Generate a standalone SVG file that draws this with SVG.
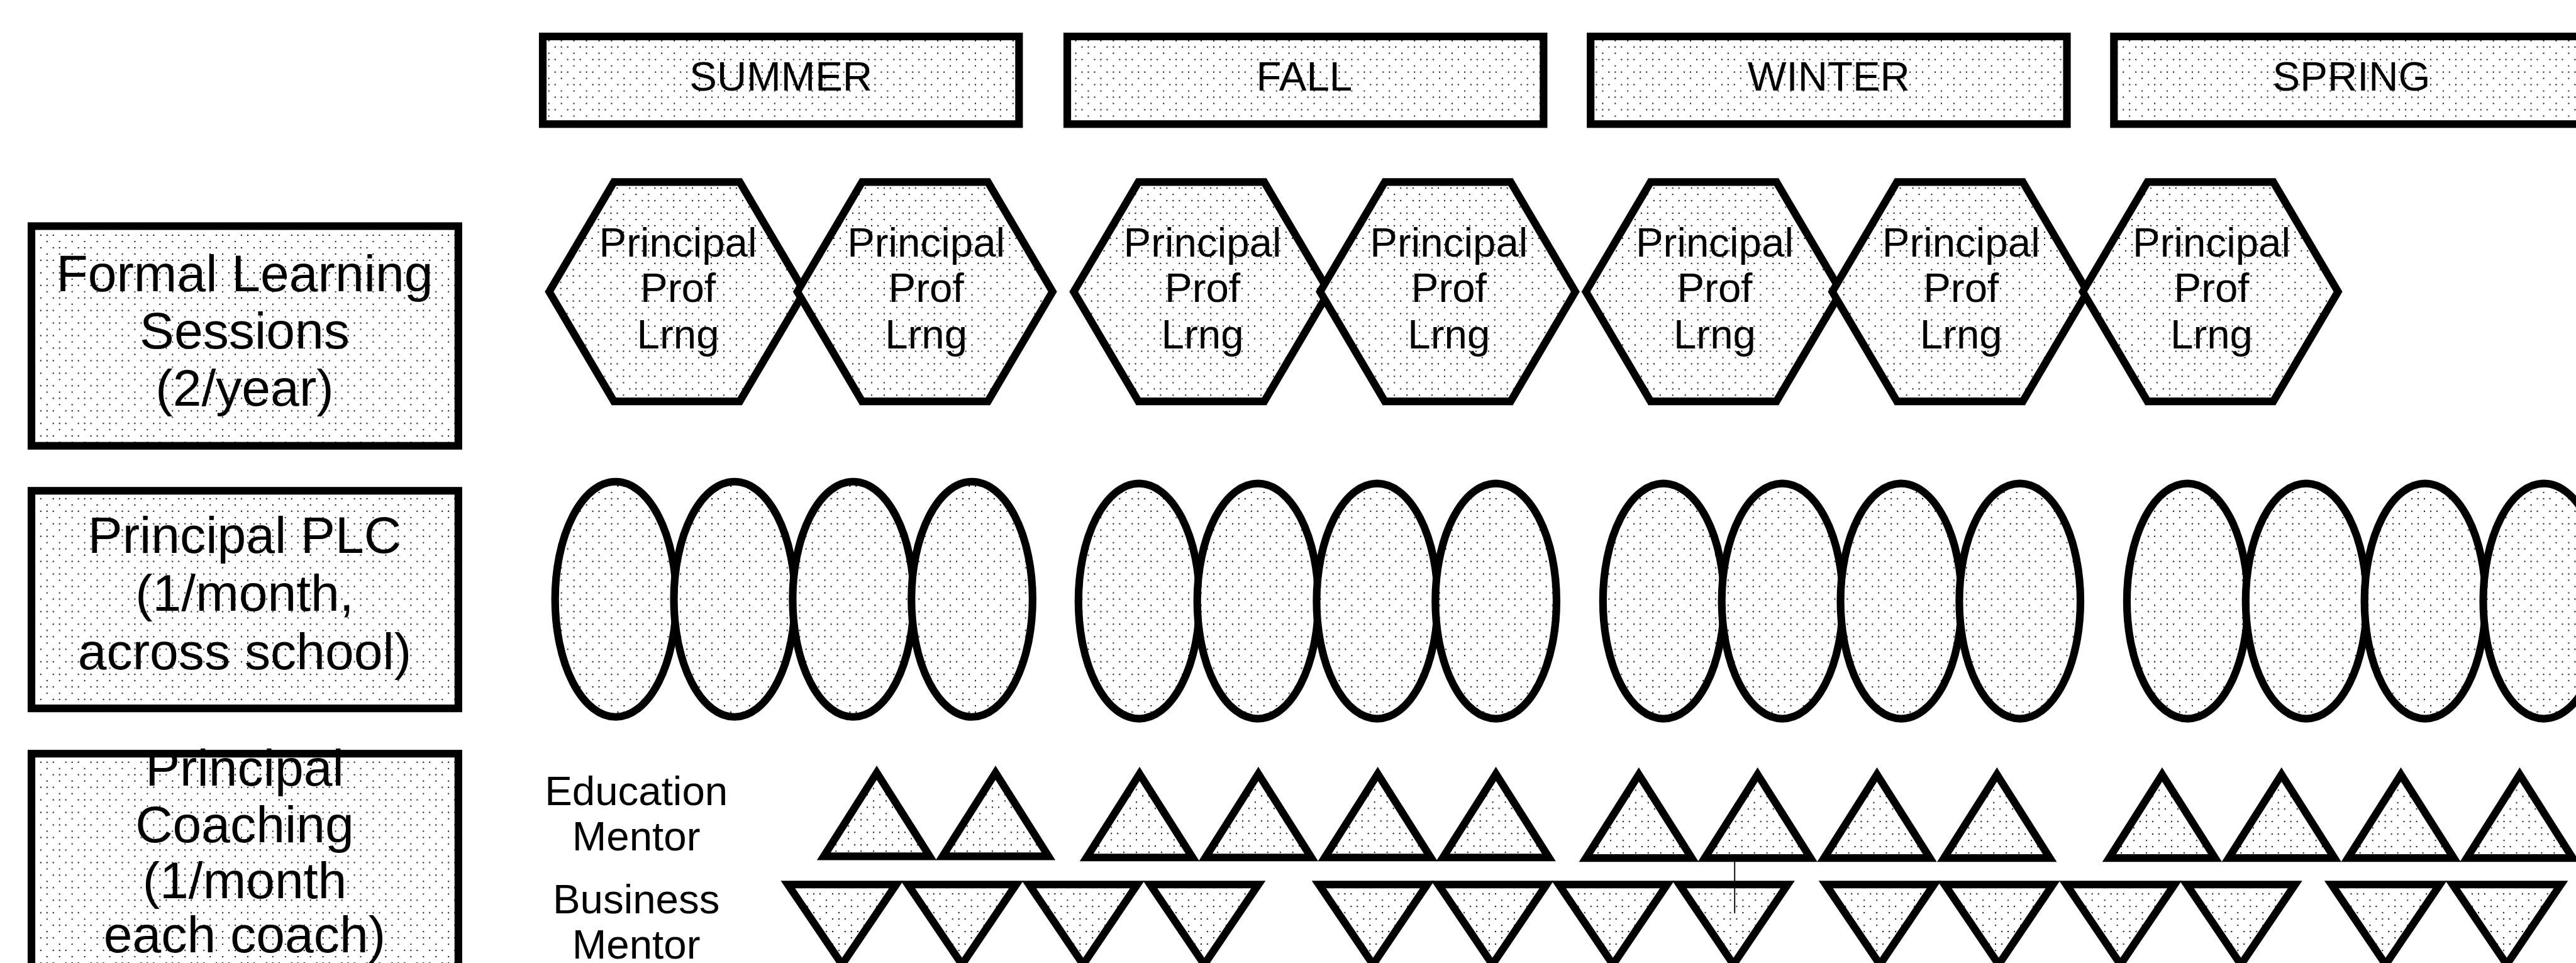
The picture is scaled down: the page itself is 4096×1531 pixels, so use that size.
<svg xmlns="http://www.w3.org/2000/svg" width="4096" height="1531" viewBox="0 0 4096 1531">
<defs>
<pattern id="dots" patternUnits="userSpaceOnUse" width="42.67" height="42.67">
<rect width="42.67" height="42.67" fill="#fff"/>
<g fill="#000">
<circle cx="16" cy="5.33" r="1.2"/><circle cx="37.33" cy="5.33" r="1.2"/>
<circle cx="5.33" cy="16" r="1.2"/><circle cx="26.67" cy="16" r="1.2"/><circle cx="37.33" cy="16" r="1.2"/>
<circle cx="16" cy="26.67" r="1.2"/><circle cx="37.33" cy="26.67" r="1.2"/>
<circle cx="5.33" cy="37.33" r="1.2"/><circle cx="16" cy="37.33" r="1.2"/><circle cx="26.67" cy="37.33" r="1.2"/>
</g>
</pattern>
<path id="hex" d="M-217,0 L-107,-186.5 L107,-186.5 L217,0 L107,186.5 L-107,186.5 Z"/>
<path id="up" d="M0,0 L90,142 L-90,142 Z"/>
<path id="down" d="M-92,0 L92,0 L0,136 Z"/>
</defs>
<style>
.sh{fill:url(#dots);stroke:#000;stroke-width:13;stroke-linejoin:miter;stroke-miterlimit:6}
.fo{fill:url(#dots);stroke:none}
.so{fill:none;stroke:#000;stroke-width:13}
.t{font-family:"Liberation Sans",Arial,Helvetica,sans-serif;fill:#000;text-anchor:middle}
.s70{font-size:70px}
.s88{font-size:88px}
.ln{stroke:#000;stroke-width:2;fill:none}
</style>
<rect width="4096" height="1531" fill="#fff"/>
<g transform="scale(0.935)">
<!-- season headers -->
<g id="season-summer"><rect class="sh" x="923" y="62" width="810" height="149"/><text class="t s70" x="1328" y="154">SUMMER</text></g>
<g id="season-fall"><rect class="sh" x="1815" y="62" width="810" height="149"/><text class="t s70" x="2218" y="154">FALL</text></g>
<g id="season-winter"><rect class="sh" x="2705" y="62" width="810" height="149"/><text class="t s70" x="3110" y="154">WINTER</text></g>
<g id="season-spring"><rect class="sh" x="3595" y="62" width="810" height="149"/><text class="t s70" x="3999" y="154">SPRING</text></g>

<!-- row labels -->
<g id="label-formal"><rect class="sh" x="53.5" y="384.5" width="726" height="373.5"/>
<text class="t s88" x="416" y="495">Formal Learning</text>
<text class="t s88" x="416" y="592">Sessions</text>
<text class="t s88" x="416" y="690">(2/year)</text></g>
<g id="label-plc"><rect class="sh" x="53.5" y="834.5" width="726" height="370"/>
<text class="t s88" x="416" y="940">Principal PLC</text>
<text class="t s88" x="416" y="1039">(1/month,</text>
<text class="t s88" x="416" y="1138">across school)</text></g>
<g id="label-coaching"><rect class="fo" x="53.5" y="1281.5" width="726" height="373.5"/>
<text class="t s88" x="416" y="1336">Principal</text>
<text class="t s88" x="416" y="1432">Coaching</text>
<text class="t s88" x="416" y="1527">(1/month</text>
<text class="t s88" x="416" y="1619">each coach)</text>
<rect class="so" x="53.5" y="1281.5" width="726" height="373.5"/></g>

<!-- hexagons -->
<g id="hex-1"><use href="#hex" class="sh" x="1151" y="496"/><text class="t s70" x="1153" y="436">Principal</text><text class="t s70" x="1153" y="513">Prof</text><text class="t s70" x="1153" y="592">Lrng</text></g>
<g id="hex-2"><use href="#hex" class="sh" x="1573" y="496"/><text class="t s70" x="1575" y="436">Principal</text><text class="t s70" x="1575" y="513">Prof</text><text class="t s70" x="1575" y="592">Lrng</text></g>
<g id="hex-3"><use href="#hex" class="sh" x="2043" y="496"/><text class="t s70" x="2045" y="436">Principal</text><text class="t s70" x="2045" y="513">Prof</text><text class="t s70" x="2045" y="592">Lrng</text></g>
<g id="hex-4"><use href="#hex" class="sh" x="2462" y="496"/><text class="t s70" x="2464" y="436">Principal</text><text class="t s70" x="2464" y="513">Prof</text><text class="t s70" x="2464" y="592">Lrng</text></g>
<g id="hex-5"><use href="#hex" class="sh" x="2914" y="496"/><text class="t s70" x="2916" y="436">Principal</text><text class="t s70" x="2916" y="513">Prof</text><text class="t s70" x="2916" y="592">Lrng</text></g>
<g id="hex-6"><use href="#hex" class="sh" x="3333" y="496"/><text class="t s70" x="3335" y="436">Principal</text><text class="t s70" x="3335" y="513">Prof</text><text class="t s70" x="3335" y="592">Lrng</text></g>
<g id="hex-7"><use href="#hex" class="sh" x="3759" y="496"/><text class="t s70" x="3761" y="436">Principal</text><text class="t s70" x="3761" y="513">Prof</text><text class="t s70" x="3761" y="592">Lrng</text></g>

<!-- PLC ellipses -->
<g id="plc-1"><ellipse class="sh" cx="1047" cy="1019" rx="103" ry="200"/></g>
<g id="plc-2"><ellipse class="sh" cx="1249" cy="1019" rx="103" ry="200"/></g>
<g id="plc-3"><ellipse class="sh" cx="1451" cy="1019" rx="103" ry="200"/></g>
<g id="plc-4"><ellipse class="sh" cx="1653" cy="1019" rx="103" ry="200"/></g>
<g id="plc-5"><ellipse class="sh" cx="1937" cy="1022" rx="103" ry="200"/></g>
<g id="plc-6"><ellipse class="sh" cx="2139" cy="1022" rx="103" ry="200"/></g>
<g id="plc-7"><ellipse class="sh" cx="2342" cy="1022" rx="103" ry="200"/></g>
<g id="plc-8"><ellipse class="sh" cx="2544" cy="1022" rx="103" ry="200"/></g>
<g id="plc-9"><ellipse class="sh" cx="2829" cy="1022" rx="103" ry="200"/></g>
<g id="plc-10"><ellipse class="sh" cx="3031" cy="1022" rx="103" ry="200"/></g>
<g id="plc-11"><ellipse class="sh" cx="3233" cy="1022" rx="103" ry="200"/></g>
<g id="plc-12"><ellipse class="sh" cx="3435" cy="1022" rx="103" ry="200"/></g>
<g id="plc-13"><ellipse class="sh" cx="3720" cy="1022" rx="103" ry="200"/></g>
<g id="plc-14"><ellipse class="sh" cx="3922" cy="1022" rx="103" ry="200"/></g>
<g id="plc-15"><ellipse class="sh" cx="4124" cy="1022" rx="103" ry="200"/></g>
<g id="plc-16"><ellipse class="sh" cx="4326" cy="1022" rx="103" ry="200"/></g>

<!-- mentor labels -->
<g id="label-edu"><text class="t s70" x="1082" y="1369">Education</text><text class="t s70" x="1082" y="1446">Mentor</text></g>
<g id="label-bus"><text class="t s70" x="1082" y="1553">Business</text><text class="t s70" x="1082" y="1630">Mentor</text></g>

<!-- education mentor (up triangles) -->
<g id="edu-1"><use href="#up" class="sh" x="1491" y="1314"/></g>
<g id="edu-2"><use href="#up" class="sh" x="1693" y="1314"/></g>
<g id="edu-3"><use href="#up" class="sh" x="1938" y="1316"/></g>
<g id="edu-4"><use href="#up" class="sh" x="2140" y="1316"/></g>
<g id="edu-5"><use href="#up" class="sh" x="2343" y="1316"/></g>
<g id="edu-6"><use href="#up" class="sh" x="2544" y="1316"/></g>
<g id="edu-7"><use href="#up" class="sh" x="2787" y="1317"/></g>
<g id="edu-8"><use href="#up" class="sh" x="2989" y="1317"/></g>
<g id="edu-9"><use href="#up" class="sh" x="3192" y="1317"/></g>
<g id="edu-10"><use href="#up" class="sh" x="3396" y="1317"/></g>
<g id="edu-11"><use href="#up" class="sh" x="3677" y="1317"/></g>
<g id="edu-12"><use href="#up" class="sh" x="3880" y="1317"/></g>
<g id="edu-13"><use href="#up" class="sh" x="4083" y="1317"/></g>
<g id="edu-14"><use href="#up" class="sh" x="4285" y="1317"/></g>

<!-- business mentor (down triangles) -->
<g id="bus-1"><use href="#down" class="sh" x="1432" y="1504"/></g>
<g id="bus-2"><use href="#down" class="sh" x="1636" y="1504"/></g>
<g id="bus-3"><use href="#down" class="sh" x="1842" y="1504"/></g>
<g id="bus-4"><use href="#down" class="sh" x="2048" y="1504"/></g>
<g id="bus-5"><use href="#down" class="sh" x="2335" y="1504"/></g>
<g id="bus-6"><use href="#down" class="sh" x="2538" y="1504"/></g>
<g id="bus-7"><use href="#down" class="sh" x="2743" y="1504"/></g>
<g id="bus-8"><use href="#down" class="sh" x="2948" y="1504"/></g>
<g id="bus-9"><use href="#down" class="sh" x="3197" y="1504"/></g>
<g id="bus-10"><use href="#down" class="sh" x="3399" y="1504"/></g>
<g id="bus-11"><use href="#down" class="sh" x="3606" y="1504"/></g>
<g id="bus-12"><use href="#down" class="sh" x="3811" y="1504"/></g>
<g id="bus-13"><use href="#down" class="sh" x="4057" y="1504"/></g>
<g id="bus-14"><use href="#down" class="sh" x="4263" y="1504"/></g>

<!-- connectors -->
<g id="connectors"><line class="ln" x1="2950" y1="1463" x2="2950" y2="1553"/></g>
</g>
</svg>
